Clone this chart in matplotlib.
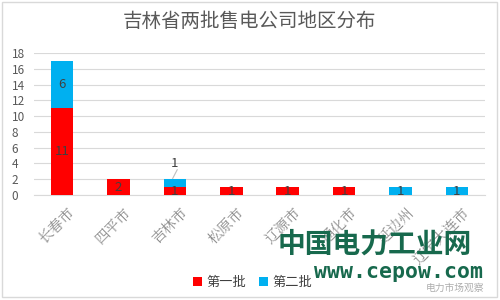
import matplotlib
matplotlib.use("Agg")
import matplotlib.pyplot as plt
from matplotlib.patches import Rectangle
import matplotlib.transforms as mtransforms
import numpy as np

plt.rcParams['font.family'] = ['Noto Sans CJK SC', 'DejaVu Sans']

categories = ['长春市', '四平市', '吉林市', '松原市', '辽源市', '通化市', '延边州', '辽宁大连市']
batch1 = [11, 2, 1, 1, 1, 1, 0, 0]
batch2 = [6, 0, 1, 0, 0, 0, 1, 1]
series_names = ['第一批', '第二批']
title = '吉林省两批售电公司地区分布'

red = '#FF0000'
blue = '#00B0F0'
grid_c = '#D9D9D9'
tick_c = '#595959'
lab_c = '#404040'

fig = plt.figure(figsize=(5, 3), dpi=100)
fig.patches.append(Rectangle((0.004, 0.01), 0.99, 0.985, transform=fig.transFigure,
                             fill=False, edgecolor='#D9D9D9', linewidth=1))
ax = fig.add_axes([0.068, 0.35, 0.902, 0.473])

x = np.arange(len(categories))
w = 0.4
b1 = np.array(batch1)
b2 = np.array(batch2)
ax.bar(x, b1, w, color=red, label=series_names[0], zorder=3)
ax.bar(x, b2, w, bottom=b1, color=blue, label=series_names[1], zorder=3)

for i in range(len(categories)):
    if b1[i] > 0:
        ax.text(x[i], b1[i] / 2, str(b1[i]), ha='center', va='center',
                fontsize=9.5, color=lab_c, zorder=4)
    if b2[i] > 0:
        if b2[i] == 1 and b1[i] > 0:
            ax.text(x[i], b1[i] + b2[i] + 2.05, str(b2[i]), ha='center', va='center',
                    fontsize=9.5, color=lab_c, zorder=4)
            ax.plot([x[i] - 0.04, x[i] + 0.04], [b1[i] + b2[i] + 0.1, b1[i] + b2[i] + 1.2],
                    color='#BFBFBF', lw=0.8, zorder=4)
        else:
            ax.text(x[i], b1[i] + b2[i] / 2, str(b2[i]), ha='center', va='center',
                    fontsize=9.5, color=lab_c, zorder=4)

ax.set_xlim(-0.5, len(categories) - 0.5)
ax.set_ylim(0, 18)
ax.set_yticks(range(0, 19, 2))
ax.yaxis.grid(True, color=grid_c, linewidth=0.8, zorder=0)
ax.set_axisbelow(True)
for s in ['top', 'right', 'left']:
    ax.spines[s].set_visible(False)
ax.spines['bottom'].set_color(grid_c)
ax.tick_params(axis='y', length=0, labelsize=8.5, labelcolor=tick_c, pad=16)
ax.tick_params(axis='x', length=0, labelsize=10.5, labelcolor='#8C8C8C', pad=7)
ax.set_xticks(x)
ax.set_xticklabels(categories, rotation=45, ha='right', rotation_mode='anchor',
                   family=['Noto Serif CJK SC', 'Noto Sans CJK SC'])
offset = mtransforms.ScaledTranslation(0.05, 0, fig.dpi_scale_trans)
for lbl in ax.get_xticklabels():
    lbl.set_transform(lbl.get_transform() + offset)
for lbl in ax.get_yticklabels():
    lbl.set_horizontalalignment('left')

fig.text(0.5, 0.927, title, ha='center', va='center', fontsize=14, color='#595959')

leg = fig.legend(loc='center', bbox_to_anchor=(0.505, 0.057), ncol=2, frameon=False,
                 fontsize=9.5, handlelength=0.7, handleheight=0.7, handletextpad=0.3,
                 columnspacing=1.0, labelcolor='#404040')

fig.text(0.75, 0.185, '中国电力工业网', ha='center', va='center', fontsize=20,
         fontweight='bold', color='#17694D')
fig.text(0.798, 0.095, 'www.cepow.com', ha='center', va='center', fontsize=15.5,
         fontweight='bold', color='#17694D', family='DejaVu Sans Mono')
fig.text(0.968, 0.04, '电力市场观察', ha='right', va='center', fontsize=7, color='#999999', alpha=0.8)

fig.savefig('out.png', dpi=100)
